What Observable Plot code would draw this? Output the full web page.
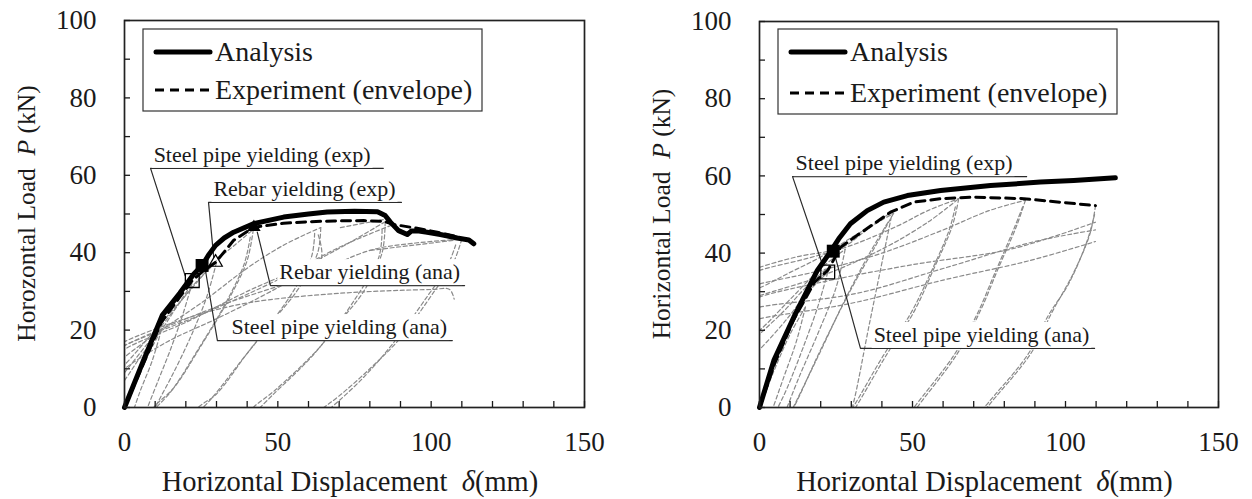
<!DOCTYPE html>
<html>
<head>
<meta charset="utf-8">
<script src="https://cdn.jsdelivr.net/npm/d3@7"></script>
<script src="https://cdn.jsdelivr.net/npm/@observablehq/plot@0.6"></script>
<style>
  body { margin: 0; background: #fff; }
  #wrap { display: flex; width: 1252px; height: 499px; overflow: hidden; }
  #wrap svg { display: block; }
  #wrap svg text { font-family: "Liberation Serif", Tinos, "Times New Roman", "DejaVu Serif", "Noto Serif", serif !important; }
</style>
</head>
<body>
<div id="wrap"></div>
<script>
// ---------- axis ticks ----------
const xTickValues = [0,10,20,30,40,50,60,70,80,90,100,110,120,130,140,150];
const xTickLabels = [0,50,100,150];
const yTickValues = [0,10,20,30,40,50,60,70,80,90,100];
const yTickLabels = [0,20,40,60,80,100];

// ---------- left panel ----------
const leftAnalysisX = [0, 6, 12.3, 18, 22.6, 25.3, 27.5, 29.7, 32.5, 35.6, 42.2, 51.9, 60, 66.1, 75, 82.5, 85, 86.7, 89.4, 92.2, 93.5, 96, 98.7, 103, 108.5, 112.3, 113.9];
const leftAnalysisY = [0, 11.8, 23.8, 29.5, 34.5, 36.7, 39.5, 41.9, 43.8, 45.3, 47.5, 49.2, 50.0, 50.5, 50.7, 50.6, 49.6, 47.9, 45.7, 44.7, 45.6, 45.6, 45.3, 44.7, 43.8, 43.3, 42.3];
const leftEnvX = [0, 6, 12, 18, 22.1, 26, 29.7, 35.6, 42.2, 51.9, 60, 68.3, 78, 84.6, 87.8, 95.4, 102, 108];
const leftEnvY = [0, 11, 22, 28.5, 32.8, 35.5, 37.5, 43.2, 46.6, 47.6, 48.0, 48.2, 48.3, 48.1, 47.3, 46.3, 45.3, 44.2];
const leftLoops = [
  [[-3,-6],[0,0],[6,11],[12,20]],
  [[12,20],[9,12],[5,4],[2,-3]],
  [[-4,3],[0,7],[6,14],[12,20],[17,26],[22,32]],
  [[22,32],[19,24],[15,15],[11,7],[7,-1]],
  [[-4,5],[0,9],[8,17],[16,25],[24,33],[30,37.5]],
  [[30,37.5],[27,29],[22,19],[16,9],[10,0],[7,-5]],
  [[-4,8],[0,11],[10,20],[20,29],[30,38],[36,42],[42,46]],
  [[42,46],[40,38],[34,28],[25,16],[16,5],[9.5,0],[7,-4]],
  [[41,44],[39,37],[33,27],[24,15],[15,4],[9,-1]],
  [[-4,10],[0,13],[12,20],[25,27],[40,36],[52,42],[64,46.5]],
  [[-4,7],[0,10],[14,17],[31,23.3],[50,31],[64,38],[63,45]],
  [[64,46.5],[63,40],[57,31],[48,22],[40,14],[30,3.5],[24,0],[20,-4]],
  [[62,45],[61,39],[55,30],[46,20],[38,12],[28,2],[23,-2]],
  [[-4,12],[0,15],[20,22],[40,30],[60,37],[72,42],[85,48]],
  [[-4,14],[0,16],[25,24],[50,33],[70,41.4],[86.7,47]],
  [[85,48],[84,40],[78,30],[70,22],[63,15],[49,4.4],[42,0],[38,-4]],
  [[84,46],[83,39],[76,29],[62,14],[48,3],[43,-1]],
  [[-4,15],[0,17],[20,23],[40,27],[70,29.5],[100,30.5],[106,30.5],[107.5,28]],
  [[-4,14],[0,16],[30,26],[60,34],[80,40.6],[95,42.5],[110,43.5]],
  [[70.4,46.5],[84.8,48.6]],
  [[80.2,40.6],[107.4,43.2]],
  [[110,43.5],[107,37],[101,30],[90,18],[80,10],[70,3],[65,0],[60,-3]],
  [[108,42],[105,36],[99,29],[88,17],[77,7],[66,-1]]
];
const leftLabels = ["Steel pipe yielding (exp)", "Rebar yielding (exp)", "Rebar yielding (ana)", "Steel pipe yielding (ana)"];
const leftPointX = [19.8, 29.1, 43.3, 26.4];
const leftPointY = [34.0, 38.8, 45.3, 35.4];
const leftElbowX = [8.5, 27.4, 47.6, 30.3];
const leftElbowY = [61.8, 53.0, 31.5, 17.3];
const leftEndX = [84.4, 90.3, 110.9, 106.9];
const leftTextX = [9.5, 29.0, 50.5, 34.9];
const leftMarkerX = [22.1, 25.3, 29.7, 42.2];
const leftMarkerY = [32.8, 36.7, 37.5, 46.6];
const leftMarkerType = ["hollowSquare", "filledSquare", "hollowTriangle", "filledTriangle"];

// ---------- right panel ----------
const rightAnalysisX = [0, 4.7, 11.2, 18.9, 22.7, 25.9, 29.7, 35.2, 40.6, 48.3, 59.2, 75.5, 91.8, 102.7, 116.3];
const rightAnalysisY = [0, 12.2, 23.4, 35.5, 39.8, 43.7, 47.6, 51.0, 53.2, 54.9, 56.2, 57.5, 58.4, 58.8, 59.5];
const rightEnvX = [0, 5, 11, 18, 22.3, 26.5, 31.9, 37.4, 42.8, 50.4, 59.2, 70.0, 86.4, 109.8];
const rightEnvY = [0, 11.5, 22.5, 32.5, 35.5, 41.5, 44.6, 47.6, 50.6, 53.2, 54.1, 54.5, 54.1, 52.3];
const rightLoops = [
  [[-3,-6],[0,0],[5,10],[10,19],[15,26]],
  [[15,26],[12,17],[8,8],[4,-1]],
  [[-4,12],[0,15],[8,22],[16,30],[22.3,35]],
  [[-4,16],[0,19],[8,25],[15,31],[22,36]],
  [[22.3,35],[19,26],[14,15],[9,5],[6,0],[4,-3]],
  [[-4,18],[0,20],[10,28],[20,36],[28,41]],
  [[28,41],[25,31],[19,19],[13,8],[9,0]],
  [[-4,30],[0,31],[10,35],[20,39],[30,44],[43.8,50.3]],
  [[-4,35],[0,36.3],[12,39],[27,41.5],[35,46],[42.3,50.2]],
  [[43.8,50.3],[38,42],[29.7,30.3],[20,15],[11.2,0],[9,-3]],
  [[42,48],[36,40],[28,28],[19,13],[11,0],[9,-3]],
  [[28,-5],[30.3,0],[36,22],[43.4,50.6]],
  [[-4,34],[0,35.5],[15,38.5],[30,42],[45,47],[55,51],[65.1,54.1]],
  [[-4,28],[0,29],[20,34],[40,41],[55,48],[65.1,54.1]],
  [[65.1,54.1],[63,47],[57,36],[50.4,24.7],[41.7,13.9],[31.4,0],[28,-4]],
  [[64,52],[62,46],[56,35],[49.5,24.5],[40.5,13.5],[30.5,0],[27,-4]],
  [[-4,31],[0,32],[20,35.5],[40,40],[60,46],[75,51],[86.9,53.7]],
  [[-4,27],[0,28.6],[20.5,32.5],[50,37],[80.4,40.7],[95,44],[109.8,48]],
  [[86.9,53.7],[84,47],[78,36],[72.2,25.1],[64.6,13.9],[51.5,0],[48,-4]],
  [[86,52],[83,46],[77,35],[71,24],[63.5,13.5],[50.5,0],[47,-4]],
  [[-4,25],[0,26],[31.4,29.5],[60,36],[90,43],[109.8,46]],
  [[-4,22],[0,23],[30,27],[60,33],[88,38],[109.8,43]],
  [[109.8,52.3],[108,45],[102.7,35],[95.6,24.7],[88.6,13.9],[74.4,0],[70,-5]],
  [[109.5,50],[107,43],[101,32],[94.5,24],[87.5,13.5],[73.5,0],[69,-5]]
];
const rightLabels = ["Steel pipe yielding (exp)", "Steel pipe yielding (ana)"];
const rightPointX = [20.5, 24.8];
const rightPointY = [37.2, 38.9];
const rightElbowX = [10.8, 33.0];
const rightElbowY = [59.8, 15.3];
const rightEndX = [87.3, 109.5];
const rightTextX = [11.8, 37.3];
const rightMarkerX = [22.3, 24.1];
const rightMarkerY = [35.1, 40.5];
const rightMarkerType = ["hollowSquare", "filledSquare"];

const legendLabels = ["Analysis", "Experiment (envelope)"];
const FONT = "\"Liberation Serif\", Tinos, \"Times New Roman\", \"DejaVu Serif\", \"Noto Serif\", serif";
const SVGNS = "http://www.w3.org/2000/svg";

function panel(o) {
  const W = 626, H = 499;
  const pts = (xs, ys) => xs.map((x, i) => ({x, y: ys[i]}));
  const loops = o.loops.flatMap((p, k) => p.map(([x, y]) => ({x, y, k})));
  const anno = o.labels.map((label, i) => ({label, px: o.pointX[i], py: o.pointY[i], ex: o.elbowX[i], ey: o.elbowY[i], ux: o.endX[i], tx: o.textX[i]}));
  const leaders = anno.flatMap((a, i) => [{x: a.px, y: a.py, k: i}, {x: a.ex, y: a.ey, k: i}, {x: a.ux, y: a.ey, k: i}]);
  const markers = o.markerX.map((x, i) => ({x, y: o.markerY[i], t: o.markerType[i]}));
  const mk = t => markers.filter(d => d.t === t);

  const chart = Plot.plot({
    width: W, height: H,
    marginLeft: o.ml, marginRight: o.mr, marginTop: o.mt, marginBottom: 92,
    x: {domain: [0, 150]},
    y: {domain: [0, 100]},
    style: {fontFamily: FONT, background: "white", color: "#1a1a1a", overflow: "visible"},
    marks: [
      Plot.line(loops, {x: "x", y: "y", z: "k", stroke: "#8a8a8a", strokeWidth: 1.2, strokeDasharray: "4,2.6", curve: "catmull-rom", clip: true}),
      Plot.line(leaders, {x: "x", y: "y", z: "k", stroke: "#2a2a2a", strokeWidth: 1.2}),
      Plot.text(anno, {x: "tx", y: "ey", text: "label", textAnchor: "start", lineAnchor: "bottom", dy: -6.5, fontSize: 22, fill: "#1a1a1a"}),
      Plot.line(pts(o.envX, o.envY), {x: "x", y: "y", stroke: "black", strokeWidth: 3, strokeDasharray: "9,6"}),
      Plot.line(pts(o.anaX, o.anaY), {x: "x", y: "y", stroke: "black", strokeWidth: 5, strokeLinecap: "round", strokeLinejoin: "round"}),
      Plot.dot(mk("hollowSquare"), {x: "x", y: "y", symbol: "square", r: 7.8, fill: "none", stroke: "black", strokeWidth: 1.3}),
      Plot.dot(mk("filledSquare"), {x: "x", y: "y", symbol: "square", r: 7.3, fill: "black", stroke: "none"}),
      Plot.dot(mk("hollowTriangle"), {x: "x", y: "y", symbol: "triangle", r: 5, fill: "none", stroke: "black", strokeWidth: 1.2}),
      Plot.dot(mk("filledTriangle"), {x: "x", y: "y", symbol: "triangle", r: 5, fill: "black", stroke: "none"}),
      Plot.frame({stroke: "#222", strokeWidth: 1.7}),
      Plot.axisX({ticks: xTickValues, tickSize: -6, tickPadding: 30, strokeWidth: 1.3, fontSize: 27, label: null,
                  tickFormat: d => xTickLabels.includes(d) ? String(d) : ""}),
      Plot.axisY({ticks: yTickValues, tickSize: -6, tickPadding: 34, strokeWidth: 1.3, fontSize: 27, label: null,
                  tickFormat: d => yTickLabels.includes(d) ? String(d) : ""})
    ]
  });
  document.getElementById("wrap").appendChild(chart);

  // white boxes behind annotation texts
  [...chart.querySelectorAll("text")].filter(t => o.labels.includes(t.textContent)).forEach(t => {
    const b = t.getBBox();
    const r = document.createElementNS(SVGNS, "rect");
    r.setAttribute("x", b.x - 2);
    r.setAttribute("y", b.y);
    r.setAttribute("width", b.width + 4);
    r.setAttribute("height", b.height + 1);
    r.setAttribute("fill", "white");
    if (t.getAttribute("transform")) r.setAttribute("transform", t.getAttribute("transform"));
    t.parentNode.insertBefore(r, t);
  });

  const svg = d3.select(chart);
  // legend
  const lx = o.ml + 19, ly = 29;
  const lg = svg.append("g").attr("font-family", FONT).attr("text-anchor", "start");
  lg.append("rect").attr("x", lx).attr("y", ly).attr("width", 339).attr("height", o.legendH)
    .attr("fill", "white").attr("stroke", "#333").attr("stroke-width", 1.2);
  lg.append("line").attr("x1", lx + 13).attr("x2", lx + 67).attr("y1", 52).attr("y2", 52)
    .attr("stroke", "black").attr("stroke-width", 5).attr("stroke-linecap", "round");
  lg.append("line").attr("x1", lx + 12).attr("x2", lx + 68).attr("y1", o.legendY2).attr("y2", o.legendY2)
    .attr("stroke", "black").attr("stroke-width", 3).attr("stroke-dasharray", "9,6");
  lg.append("text").attr("x", lx + 72).attr("y", 61).attr("text-anchor", "start").attr("font-size", 28).attr("fill", "#1a1a1a").text(legendLabels[0]);
  lg.append("text").attr("x", lx + 72).attr("y", o.legendY2 + 9).attr("text-anchor", "start").attr("font-size", 28).attr("fill", "#1a1a1a").text(legendLabels[1]);

  // x axis title
  const xt = svg.append("text").attr("x", (o.ml + W - o.mr) / 2 - 4).attr("y", 491)
    .attr("text-anchor", "middle").attr("font-family", FONT).attr("font-size", 28.5)
    .attr("fill", "#1a1a1a").style("white-space", "pre");
  xt.append("tspan").text("Horizontal Displacement  ");
  xt.append("tspan").attr("font-style", "italic").text("δ");
  xt.append("tspan").text("(mm)");

  // y axis title
  const yt = svg.append("text").attr("transform", `translate(${o.ml - 89},${(o.mt + 407) / 2}) rotate(-90)`)
    .attr("text-anchor", "middle").attr("font-family", FONT).attr("font-size", 25.5)
    .attr("fill", "#1a1a1a").style("white-space", "pre");
  yt.append("tspan").text(o.yTitle + "  ");
  yt.append("tspan").attr("font-style", "italic").text("P");
  yt.append("tspan").text(" (kN)");
}

panel({
  ml: 124, mr: 42, mt: 20, legendH: 82, legendY2: 90,
  yTitle: "Horozontal Load",
  anaX: leftAnalysisX, anaY: leftAnalysisY, envX: leftEnvX, envY: leftEnvY, loops: leftLoops,
  labels: leftLabels, pointX: leftPointX, pointY: leftPointY, elbowX: leftElbowX, elbowY: leftElbowY,
  endX: leftEndX, textX: leftTextX, markerX: leftMarkerX, markerY: leftMarkerY, markerType: leftMarkerType
});
panel({
  ml: 133, mr: 34, mt: 21, legendH: 85, legendY2: 93,
  yTitle: "Horizontal Load",
  anaX: rightAnalysisX, anaY: rightAnalysisY, envX: rightEnvX, envY: rightEnvY, loops: rightLoops,
  labels: rightLabels, pointX: rightPointX, pointY: rightPointY, elbowX: rightElbowX, elbowY: rightElbowY,
  endX: rightEndX, textX: rightTextX, markerX: rightMarkerX, markerY: rightMarkerY, markerType: rightMarkerType
});
</script>
</body>
</html>
